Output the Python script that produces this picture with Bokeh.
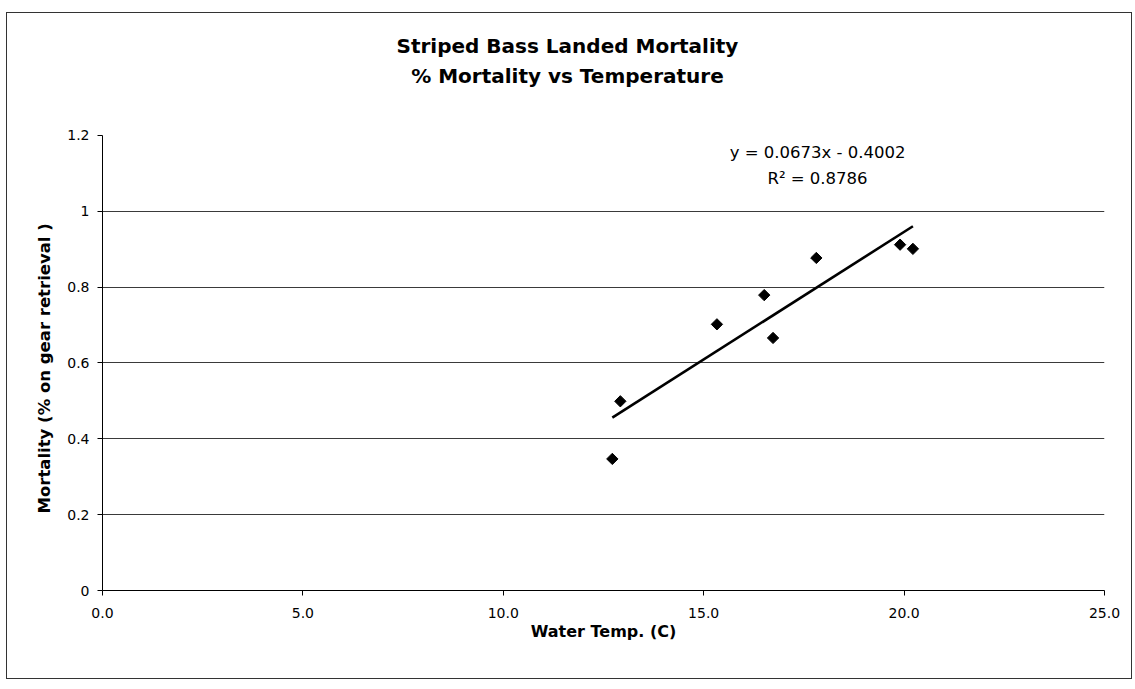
import numpy as np
from bokeh.plotting import figure
from bokeh.models import Range1d, FixedTicker, Label, Title
from bokeh.embed import file_html
from bokeh.resources import INLINE

# ---- data ----
water_temp = [12.72, 12.92, 15.33, 16.51, 16.73, 17.81, 19.90, 20.22]
mortality = [0.347, 0.499, 0.702, 0.779, 0.666, 0.877, 0.912, 0.901]
trend_slope = 0.0673
trend_intercept = -0.4002
trend_r2 = 0.8786

x_ticks = [0, 5, 10, 15, 20, 25]
x_tick_labels = ["0.0", "5.0", "10.0", "15.0", "20.0", "25.0"]
y_ticks = [0, 0.2, 0.4, 0.6, 0.8, 1.0, 1.2]
y_tick_labels = ["0", "0.2", "0.4", "0.6", "0.8", "1", "1.2"]
grid_ticks = [0.2, 0.4, 0.6, 0.8, 1.0]

title_line1 = "Striped Bass Landed Mortality"
title_line2 = "% Mortality vs Temperature"
x_title = "Water Temp. (C)"
y_title = "Mortality (% on gear retrieval )"

FONT = "DejaVu Sans"

# the plot area extends above the 1.2 axis end so the title lines sit inside it
Y_TOP = 1.5217

p = figure(width=1126, height=667, output_backend="svg", toolbar_location=None,
           x_range=Range1d(0, 25), y_range=Range1d(0, Y_TOP),
           min_border_left=95, min_border_right=29, min_border_top=0, min_border_bottom=90)
p.styles = {"border": "1px solid #333", "margin-left": "6px", "margin-top": "12px"}
p.outline_line_color = None
p.background_fill_color = "white"
p.border_fill_color = "white"

# axes
for ax in (p.xaxis[0], p.yaxis[0]):
    ax.axis_line_color = "black"
    ax.axis_line_width = 1
    ax.major_tick_line_color = "black"
    ax.major_tick_in = 0
    ax.major_tick_out = 5
    ax.minor_tick_line_color = None
    ax.major_label_text_font = FONT
    ax.major_label_text_font_size = "14px"
    ax.major_label_text_color = "black"
    ax.axis_label_text_font = FONT
    ax.axis_label_text_font_style = "bold"
    ax.axis_label_text_color = "black"

p.xaxis.ticker = FixedTicker(ticks=x_ticks)
p.xaxis.major_label_overrides = dict(zip(x_ticks, x_tick_labels))
p.xaxis.major_label_standoff = 12
p.xaxis.axis_label = x_title
p.xaxis.axis_label_text_font_size = "16px"
p.xaxis.axis_label_standoff = 1

p.yaxis.ticker = FixedTicker(ticks=y_ticks)
p.yaxis.bounds = (0, 1.2)
p.yaxis.major_label_overrides = dict(zip(y_ticks, y_tick_labels))
p.yaxis.major_label_standoff = 8

# y-axis title: a side title on the left, started where the reference text starts
p.add_layout(Title(text=y_title, align="left", offset=77, standoff=22,
                   text_font=FONT, text_font_size="16.5px", text_font_style="bold",
                   text_color="black"), "left")

p.xgrid.grid_line_color = None
p.ygrid.ticker = FixedTicker(ticks=grid_ticks)
p.ygrid.grid_line_color = "#3a3a3a"
p.ygrid.grid_line_width = 1

# linear trend line over the data range
x_line = np.array([min(water_temp), max(water_temp)])
y_line = trend_slope * x_line + trend_intercept
p.line(x_line, y_line, line_color="black", line_width=2.6)

# data points (black diamonds)
p.scatter(water_temp, mortality, marker="square", angle=np.pi / 4, size=8,
          fill_color="black", line_color="black")

# titles (two lines, placed above the 1.2 end of the axis)
for txt, yy in ((title_line1, 1.437), (title_line2, 1.358)):
    p.add_layout(Label(x=11.6, y=yy, text=txt, text_align="center", text_baseline="middle",
                       text_font=FONT, text_font_size="20px", text_font_style="bold",
                       text_color="black"))

# trend equation
eq1 = f"y = {trend_slope:.4f}x - {abs(trend_intercept):.4f}"
eq2 = f"R\u00b2 = {trend_r2:.4f}"
p.add_layout(Label(x=17.84, y=1.155, text=eq1, text_align="center", text_baseline="middle",
                   text_font=FONT, text_font_size="16.5px", text_color="black"))
p.add_layout(Label(x=17.84, y=1.087, text=eq2, text_align="center", text_baseline="middle",
                   text_font=FONT, text_font_size="16.5px", text_color="black"))

open("out.html", "w").write(file_html(p, INLINE))
